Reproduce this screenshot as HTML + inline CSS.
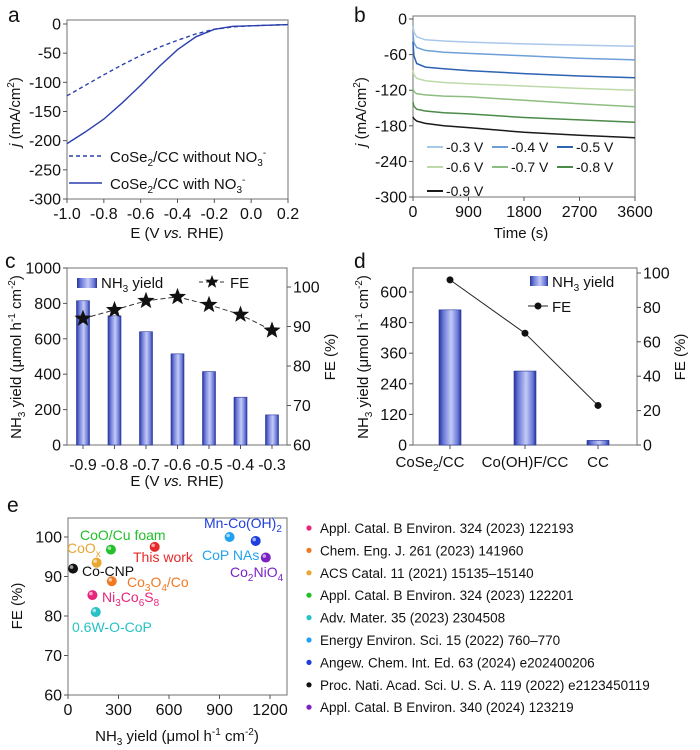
<!DOCTYPE html>
<html><head><meta charset="utf-8"><style>
html,body{margin:0;padding:0;background:#fff}
svg{display:block;font-family:"Liberation Sans",Arial,sans-serif}
</style></head><body>
<svg id="fig" width="700" height="750" viewBox="0 0 700 750" xmlns="http://www.w3.org/2000/svg">
<defs>
<linearGradient id="barg" x1="0" x2="1" y1="0" y2="0">
<stop offset="0" stop-color="#27349a"/><stop offset="0.2" stop-color="#6a78d8"/><stop offset="0.55" stop-color="#c4cbf6"/><stop offset="0.85" stop-color="#6a78d8"/><stop offset="1" stop-color="#27349a"/>
</linearGradient>
</defs>
</svg>
<script>
// ---- data panel a ----
const aE = [-1.0,-0.9,-0.8,-0.7,-0.6,-0.5,-0.4,-0.3,-0.2,-0.1,0.0,0.1,0.2];
const aWith = [-205,-185,-163,-135,-105,-73,-44,-22,-9,-4,-3,-2,-1];
const aWithout = [-123,-105,-87,-70,-54,-40,-28,-17,-9,-5,-3,-2,-1];
// ---- data panel b ----
const bT = [0,15,60,200,500,900,1800,2700,3600];
const bLabels = ['-0.3 V','-0.4 V','-0.5 V','-0.6 V','-0.7 V','-0.8 V','-0.9 V'];
const b03 = [-11,-22,-30,-35,-37,-39,-42,-44,-46];
const b04 = [-25,-40,-48,-53,-56,-58,-62,-66,-69];
const b05 = [-39,-62,-75,-81,-84,-87,-92,-96,-99];
const b06 = [-86,-94,-100,-104,-107,-109,-113,-117,-120];
const b07 = [-117,-122,-126,-128,-130,-131,-137,-143,-148];
const b08 = [-140,-147,-152,-155,-158,-160,-166,-170,-174];
const b09 = [-165,-168,-172,-176,-180,-183,-191,-196,-200];
// ---- data panel c ----
const cCats = ['-0.9','-0.8','-0.7','-0.6','-0.5','-0.4','-0.3'];
const cYield = [815,730,640,515,415,270,170];
const cFE = [92,94.2,96.5,97.5,95.5,93,89];
// ---- data panel d ----
const dCats = ['CoSe2/CC','Co(OH)F/CC','CC'];
const dYield = [530,290,18];
const dFE = [96,65,23];
// ---- data panel e ----
const eNames = ['CoO/Cu foam','This work','CoOx','Co-CNP','Co3O4/Co','Ni3Co6S8','0.6W-O-CoP','CoP NAs','Mn-Co(OH)2','Co2NiO4'];
const eX = [255,515,170,30,260,145,165,960,1115,1175];
const eY = [96.8,97.5,93.5,92,88.8,85.3,81,100,99,94.8];
const eRefs = ['Appl. Catal. B Environ. 324 (2023) 122193','Chem. Eng. J. 261 (2023) 141960','ACS Catal. 11 (2021) 15135\u201315140','Appl. Catal. B Environ. 324 (2023) 122201','Adv. Mater. 35 (2023) 2304508','Energy Environ. Sci. 15 (2022) 760\u2013770','Angew. Chem. Int. Ed. 63 (2024) e202400206','Proc. Nati. Acad. Sci. U. S. A. 119 (2022) e2123450119','Appl. Catal. B Environ. 340 (2024) 123219'];

const NS='http://www.w3.org/2000/svg';
const svg=document.getElementById('fig');
function el(tag,attrs,name,parent){
  const e=document.createElementNS(NS,tag);
  for(const k in attrs) e.setAttribute(k,attrs[k]);
  
  
  (parent||svg).appendChild(e);return e;
}
function txt(x,y,s,name,opt){
  opt=opt||{};
  const t=el('text',{x:x,y:y,'font-size':opt.fs||15,fill:opt.fill||'#111','text-anchor':opt.anchor||'start'},name,opt.parent);
  if(opt.rot) t.setAttribute('transform','rotate(-90 '+x+' '+y+')');
  if(opt.html) t.innerHTML=s; else t.textContent=s;
  return t;
}
function lin(d0,d1,r0,r1){return v=>r0+(v-d0)/(d1-d0)*(r1-r0);}
function frame(L,T,R,B,name){el('rect',{x:L,y:T,width:R-L,height:B-T,fill:'none',stroke:'#888','stroke-width':1.2},name);}
function yTicks(vals,sy,x,side,name){
  vals.forEach(v=>{const y=sy(v);
    el('line',{x1:x,x2:x+(side<0?-4:4),y1:y,y2:y,stroke:'#555'},name+'-tick');
    txt(x+(side<0?-6:6),y+5.5,String(v),name+'-label',{anchor:side<0?'end':'start',fs:16});});
}
function xTicks(vals,sx,y,name,labels){
  vals.forEach((v,i)=>{const x=sx(v);
    el('line',{x1:x,x2:x,y1:y,y2:y+4,stroke:'#555'},name+'-tick');
    txt(x,y+20,labels?labels[i]:String(v),name+'-label',{anchor:'middle',fs:16});});
}
function path(xs,ys,sx,sy){return xs.map((v,i)=>(i?'L':'M')+sx(v).toFixed(1)+' '+sy(ys[i]).toFixed(1)).join(' ');}

// ===== panel a =====
txt(8,22,'a','panel-a-label',{fs:21});
{const L=67,R=288,T=20,B=199;const sx=lin(-1,0.2,L,R),sy=lin(0,-300,24,B);
frame(L,T,R,B,'panel-a-frame');
yTicks([0,-50,-100,-150,-200,-250,-300],sy,L,-1,'a-y');
xTicks([-1.0,-0.8,-0.6,-0.4,-0.2,0.0,0.2],sx,B,'a-x',['-1.0','-0.8','-0.6','-0.4','-0.2','0.0','0.2']);
el('path',{d:path(aE,aWithout,sx,sy),fill:'none',stroke:'#2b3fae','stroke-width':1.4,'stroke-dasharray':'4 3'},'a-without-no3-curve');
el('path',{d:path(aE,aWith,sx,sy),fill:'none',stroke:'#2b3fae','stroke-width':1.4},'a-with-no3-curve');
el('line',{x1:69,x2:102,y1:156,y2:156,stroke:'#2b3fae','stroke-width':1.4,'stroke-dasharray':'4 3'},'a-legend-dash');
txt(110,162,'CoSe<tspan font-size="10" dy="4">2</tspan><tspan dy="-4">/CC without NO</tspan><tspan font-size="10" dy="4">3</tspan><tspan font-size="10" dy="-10">-</tspan>','a-legend-without',{html:1});
el('line',{x1:69,x2:102,y1:183,y2:183,stroke:'#2b3fae','stroke-width':1.4},'a-legend-solid');
txt(110,189,'CoSe<tspan font-size="10" dy="4">2</tspan><tspan dy="-4">/CC with NO</tspan><tspan font-size="10" dy="4">3</tspan><tspan font-size="10" dy="-10">-</tspan>','a-legend-with',{html:1});
txt(20,112,'<tspan font-style="italic">j</tspan> (mA/cm<tspan font-size="10" dy="-6">2</tspan><tspan dy="6">)</tspan>','a-y-title',{anchor:'middle',rot:1,html:1});
txt(177,238,'E (V <tspan font-style="italic">vs.</tspan> RHE)','a-x-title',{anchor:'middle',html:1});
}
// ===== panel b =====
txt(354,22,'b','panel-b-label',{fs:21});
{const L=413,R=635,T=16,B=197;const sx=lin(0,3600,L,R),sy=lin(0,-300,19,B);
frame(L,T,R,B,'panel-b-frame');
yTicks([0,-60,-120,-180,-240,-300],sy,L,-1,'b-y');
xTicks([0,900,1800,2700,3600],sx,B,'b-x');
const series=[b03,b04,b05,b06,b07,b08,b09];
const cols=['#a9c8e8','#6d9fd9','#2e62b2','#bddaa9','#8dbd80','#4b8a48','#1a1a1a'];
series.forEach((s,i)=>el('path',{d:path(bT,s,sx,sy),fill:'none',stroke:cols[i],'stroke-width':1.5},'b-curve-'+i));
const lx=[427,492,557],ly=[147,167,191];
bLabels.forEach((lab,i)=>{const x=lx[i%3],y=ly[Math.floor(i/3)];
  el('line',{x1:x,x2:x+16,y1:y,y2:y,stroke:cols[i],'stroke-width':2},'b-legend-line');
  txt(x+19,y+5,lab,'b-legend-label',{fs:14});});
txt(366,112,'<tspan font-style="italic">j</tspan> (mA/cm<tspan font-size="10" dy="-6">2</tspan><tspan dy="6">)</tspan>','b-y-title',{anchor:'middle',rot:1,html:1});
txt(521,238,'Time (s)','b-x-title',{anchor:'middle'});
}
function star(cx,cy,r,name){let p=[];for(let k=0;k<10;k++){const a=-Math.PI/2+k*Math.PI/5,rr=k%2?r*0.42:r;p.push((cx+rr*Math.cos(a)).toFixed(1)+','+(cy+rr*Math.sin(a)).toFixed(1));}
  el('polygon',{points:p.join(' '),fill:'#111'},name);}
// ===== panel c =====
txt(5,268,'c','panel-c-label',{fs:21});
{const L=67,R=287,T=268,B=445;const sy=lin(0,1000,B,T),sy2=lin(60,100,B,287);
const sx=i=>83+i*31.5;
frame(L,T,R,B,'panel-c-frame');
yTicks([0,200,400,600,800,1000],sy,L,-1,'c-y');
yTicks([60,70,80,90,100],sy2,R,1,'c-y2');
cCats.forEach((c,i)=>{el('line',{x1:sx(i),x2:sx(i),y1:B,y2:B+4,stroke:'#555'},'c-x-tick');txt(sx(i),B+25,c,'c-x-label',{anchor:'middle',fs:16});});
cYield.forEach((v,i)=>el('rect',{x:sx(i)-6.5,y:sy(v),width:13,height:B-sy(v),fill:'url(#barg)',stroke:'#27349a','stroke-width':0.6},'c-bar-'+cCats[i]));
el('path',{d:cFE.map((v,i)=>(i?'L':'M')+sx(i)+' '+sy2(v)).join(' '),fill:'none',stroke:'#333','stroke-dasharray':'5 3','stroke-width':1},'c-fe-line');
cFE.forEach((v,i)=>star(sx(i),sy2(v),9,'c-fe-star'));
el('rect',{x:77,y:278,width:20,height:10,fill:'url(#barg)'},'c-legend-swatch');
txt(101,288,'NH<tspan font-size="10" dy="4">3</tspan><tspan dy="-4"> yield</tspan>','c-legend-yield',{html:1});
el('line',{x1:199,x2:225,y1:282,y2:282,stroke:'#333','stroke-dasharray':'4 3'},'c-legend-fe-line');
star(212,282,7,'c-legend-star');
txt(230,288,'FE','c-legend-fe');
txt(21,357,'NH<tspan font-size="10" dy="4">3</tspan><tspan dy="-4"> yield (μmol h</tspan><tspan font-size="10" dy="-6">-1</tspan><tspan dy="6"> cm</tspan><tspan font-size="10" dy="-6">-2</tspan><tspan dy="6">)</tspan>','c-y-title',{anchor:'middle',rot:1,html:1});
txt(335,357,'FE (%)','c-y2-title',{anchor:'middle',rot:1});
txt(177,486,'E (V <tspan font-style="italic">vs.</tspan> RHE)','c-x-title',{anchor:'middle',html:1});
}
// ===== panel d =====
txt(354,268,'d','panel-d-label',{fs:21});
{const L=413,R=637,T=268,B=445;const sy=lin(0,600,B,292),sy2=lin(0,100,B,273);
const cx=[450,525,598];
const lxp=[430,525,598];
frame(L,T,R,B,'panel-d-frame');
yTicks([0,120,240,360,480,600],sy,L,-1,'d-y');
yTicks([0,20,40,60,80,100],sy2,R,1,'d-y2');
const lbl=['CoSe<tspan font-size="10" dy="4">2</tspan><tspan dy="-4">/CC</tspan>','Co(OH)F/CC','CC'];
dCats.forEach((c,i)=>{el('line',{x1:cx[i],x2:cx[i],y1:B,y2:B+4,stroke:'#555'},'d-x-tick');txt(lxp[i],B+22,lbl[i],'d-x-label',{anchor:'middle',html:1});});
dYield.forEach((v,i)=>el('rect',{x:cx[i]-11,y:sy(v),width:22,height:B-sy(v),fill:'url(#barg)',stroke:'#27349a','stroke-width':0.6},'d-bar-'+i));
el('path',{d:dFE.map((v,i)=>(i?'L':'M')+cx[i]+' '+sy2(v)).join(' '),fill:'none',stroke:'#222','stroke-width':1},'d-fe-line');
dFE.forEach((v,i)=>el('circle',{cx:cx[i],cy:sy2(v),r:3.5,fill:'#111'},'d-fe-point'));
el('rect',{x:530,y:276,width:18,height:10,fill:'url(#barg)'},'d-legend-swatch');
txt(552,287,'NH<tspan font-size="10" dy="4">3</tspan><tspan dy="-4"> yield</tspan>','d-legend-yield',{html:1});
el('line',{x1:528,x2:548,y1:306,y2:306,stroke:'#222'},'d-legend-fe-line');
el('circle',{cx:538,cy:306,r:3.5,fill:'#111'},'d-legend-fe-point');
txt(552,312,'FE','d-legend-fe');
txt(368,357,'NH<tspan font-size="10" dy="4">3</tspan><tspan dy="-4"> yield (μmol h</tspan><tspan font-size="10" dy="-6">-1</tspan><tspan dy="6"> cm</tspan><tspan font-size="10" dy="-6">-2</tspan><tspan dy="6">)</tspan>','d-y-title',{anchor:'middle',rot:1,html:1});
txt(685,357,'FE (%)','d-y2-title',{anchor:'middle',rot:1});
}
// ===== panel e =====
txt(7,512,'e','panel-e-label',{fs:21});
{const L=68,R=287,T=518,B=695;const sx=lin(0,1200,L,270),sy=lin(60,100,B,537);
frame(L,T,R,B,'panel-e-frame');
yTicks([60,70,80,90,100],sy,L,-1,'e-y');
xTicks([0,300,600,900,1200],sx,B,'e-x');
const cols=['#22c02a','#e82a2a','#e8a632','#111111','#f07a24','#e8247c','#26c2c6','#22a2ee','#1f3ee0','#7a22c4'];
const labs=[['CoO/Cu foam',80,540],['This work',133,562],['CoO<tspan font-size="10" dy="4">x</tspan>',67,553],['Co-CNP',82,576],['Co<tspan font-size="10" dy="4">3</tspan><tspan dy="-4">O</tspan><tspan font-size="10" dy="4">4</tspan><tspan dy="-4">/Co</tspan>',127,587],['Ni<tspan font-size="10" dy="4">3</tspan><tspan dy="-4">Co</tspan><tspan font-size="10" dy="4">6</tspan><tspan dy="-4">S</tspan><tspan font-size="10" dy="4">8</tspan>',102,602],['0.6W-O-CoP',72,632],['CoP NAs',202,560],['Mn-Co(OH)<tspan font-size="10" dy="4">2</tspan>',204,528],['Co<tspan font-size="10" dy="4">2</tspan><tspan dy="-4">NiO</tspan><tspan font-size="10" dy="4">4</tspan>',230,577]];
eNames.forEach((n,i)=>{
  el('circle',{cx:sx(eX[i]),cy:sy(eY[i]),r:5,fill:cols[i]},'e-point-'+i);
  el('circle',{cx:sx(eX[i])-1.5,cy:sy(eY[i])-1.5,r:1.8,fill:'#fff',opacity:0.6},'e-point-highlight');
  txt(labs[i][1],labs[i][2],labs[i][0],'e-point-label',{fs:14,fill:cols[i],html:1});
});
txt(22,606,'FE (%)','e-y-title',{anchor:'middle',rot:1});
txt(177,741,'NH<tspan font-size="10" dy="4">3</tspan><tspan dy="-4"> yield (μmol h</tspan><tspan font-size="10" dy="-6">-1</tspan><tspan dy="6"> cm</tspan><tspan font-size="10" dy="-6">-2</tspan><tspan dy="6">)</tspan>','e-x-title',{anchor:'middle',html:1});
const rc=['#e8247c','#f07a24','#e8a632','#22c02a','#26c2c6','#22a2ee','#1f3ee0','#111111','#7a22c4'];
eRefs.forEach((r,i)=>{const y=528+i*22.4;
  el('circle',{cx:309,cy:y,r:2.6,fill:rc[i]},'e-ref-dot');
  txt(320,y+5,r,'e-ref-text',{fs:13.5});});
}
</script>
</body></html>
